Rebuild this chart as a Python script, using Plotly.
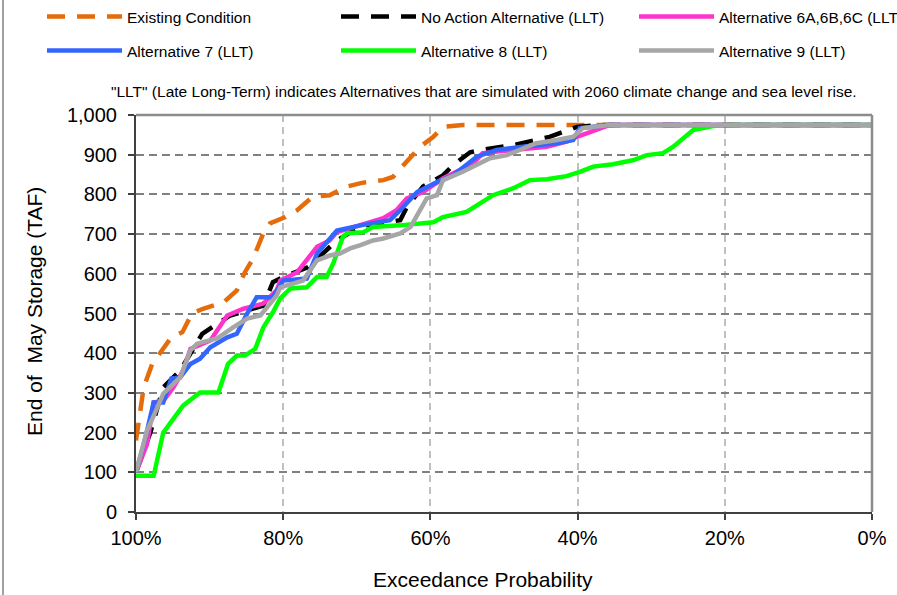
import plotly.graph_objects as go

# ---------------- data (exceedance probability %, storage TAF) ----------------
existing_x = [100, 98.95, 97.8, 96.6, 95.2, 93.7, 92.4, 90.9, 88.1, 86.3, 85.2, 84.1, 82.7, 81.8,
              79.7, 78.1, 76.0, 73.7, 71.3, 69.3, 66.4, 65.1, 62.7, 61.4, 59.6, 58.3, 55.6, 0]
existing_y = [180, 314, 373, 402, 440, 453, 500, 512, 528, 558, 604, 638, 702, 727,
              743, 760, 794, 798, 820, 829, 836, 844, 895, 920, 945, 970, 975, 975]

noaction_x = [100, 98.05, 96.3, 94.0, 91.0, 87.2, 82.7, 81.4, 80.0, 76.6, 72.7, 69.5, 64.1, 63.2,
              61.0, 58.3, 56.9, 54.6, 53.0, 48.8, 43.8, 40.1, 37.0, 0]
noaction_y = [100, 200, 314, 356, 449, 495, 520, 579, 592, 617, 684, 720, 735, 768,
              820, 848, 874, 906, 912, 924, 945, 970, 975, 975]

alt6_x = [100, 98.5, 97.6, 96.3, 94.9, 93.6, 92.6, 89.9, 87.6, 85.4, 82.7, 80.9, 80.4, 78.1, 75.4,
          73.7, 72.7, 69.5, 66.4, 64.6, 63.2, 61.0, 58.3, 54.2, 52.9, 48.8, 44.2, 41.5, 40.1, 35.6, 0]
alt6_y = [100, 171, 276, 280, 314, 356, 411, 432, 495, 512, 525, 558, 583, 604, 668,
          684, 705, 722, 740, 760, 790, 806, 840, 878, 904, 912, 920, 933, 945, 975, 975]

alt7_x = [100, 98.7, 97.6, 96.3, 95.2, 94.0, 92.6, 91.3, 89.9, 87.6, 86.3, 84.9, 83.6, 81.4, 80.0,
          76.8, 75.4, 72.7, 69.5, 65.5, 64.1, 61.8, 59.1, 56.9, 53.7, 51.0, 47.4, 42.8, 40.6, 39.7, 35.6, 0]
alt7_y = [100, 188, 276, 276, 336, 339, 373, 386, 415, 440, 449, 500, 541, 541, 583,
          588, 651, 709, 722, 735, 760, 806, 831, 848, 895, 912, 920, 929, 937, 967, 975, 975]

alt8_x = [100, 97.6, 96.3, 93.6, 91.3, 88.8, 87.5, 86.3, 85.2, 83.8, 82.7, 81.4, 80.4, 79.0, 76.8,
          75.4, 74.1, 73.2, 71.9, 71.3, 69.1, 67.8, 64.1, 59.6, 58.3, 55.1, 53.3, 51.5, 48.8, 46.5,
          44.2, 41.5, 39.7, 37.9, 35.2, 32.5, 30.6, 28.4, 27.0, 25.2, 24.3, 21.6, 19.8, 0]
alt8_y = [91, 91, 200, 268, 301, 301, 373, 394, 394, 411, 465, 503, 538, 563, 566,
          592, 592, 626, 693, 702, 705, 718, 722, 730, 743, 756, 777, 798, 815, 836,
          838, 846, 857, 870, 876, 886, 899, 904, 920, 949, 962, 972, 975, 975]

alt9_x = [100, 98.5, 97.1, 96.3, 94.0, 92.6, 91.7, 89.0, 86.8, 84.9, 83.1, 80.9, 80.4, 77.3, 75.4,
          73.7, 72.3, 70.9, 69.5, 67.8, 66.4, 64.1, 62.7, 61.4, 60.5, 59.1, 58.3, 55.6, 53.7, 51.9,
          49.6, 47.8, 45.6, 42.8, 40.6, 39.3, 35.6, 0]
alt9_y = [100, 205, 263, 298, 339, 407, 424, 437, 465, 487, 495, 545, 566, 583, 634,
          646, 651, 664, 672, 684, 689, 702, 718, 760, 790, 798, 836, 857, 874, 891,
          899, 912, 929, 937, 945, 967, 975, 975]

names = ["Existing Condition", "No Action Alternative (LLT)", "Alternative 6A,6B,6C (LLT)",
         "Alternative 7 (LLT)", "Alternative 8 (LLT)", "Alternative 9 (LLT)"]
x_ticks = [100, 80, 60, 40, 20, 0]
x_ticktext = ["100%", "80%", "60%", "40%", "20%", "0%"]
y_ticks = list(range(0, 1001, 100))

# ---------------- figure ----------------
W, H = 897, 595
L, R, T, B = 136, 25, 115, 83
PW = W - L - R
PH = H - T - B
FONT = "Arial, Liberation Sans, sans-serif"


def px_x(p):
    return (p - L) / PW


def px_y(p):
    return (H - B - p) / PH


series = [
    (existing_x, existing_y, "#E46C0A", "18px,12px"),
    (noaction_x, noaction_y, "#000000", "18px,12px"),
    (alt6_x, alt6_y, "#FF33CC", "solid"),
    (alt7_x, alt7_y, "#3366FF", "solid"),
    (alt8_x, alt8_y, "#00FF00", "solid"),
    (alt9_x, alt9_y, "#A6A6A6", "solid"),
]
# legend slot positions (symbol start x, row center y) in pixels
legend_pos = [(49, 17), (343, 17), (641, 17), (49, 51), (343, 51), (641, 51)]

fig = go.Figure()
legends = {}
for i, ((xs, ys, col, dash), name) in enumerate(zip(series, names)):
    lname = "legend" if i == 0 else f"legend{i+1}"
    fig.add_trace(go.Scatter(x=xs, y=ys, mode="lines", name=name, legend=lname,
                             line=dict(color=col, width=4.5, dash=dash)))
    px, py = legend_pos[i]
    legends[lname] = dict(xref="container", yref="container", x=(px - 7) / W, y=1 - py / H,
                          xanchor="left", yanchor="middle", bgcolor="rgba(0,0,0,0)",
                          borderwidth=0, itemwidth=75, font=dict(family=FONT, size=15.5, color="#000"),
                          tracegroupgap=0)

fig.update_layout(**legends)

fig.update_layout(
    width=W, height=H,
    margin=dict(l=L, r=R, t=T, b=B, pad=0, autoexpand=False),
    paper_bgcolor="white", plot_bgcolor="white",
    font=dict(family=FONT, color="#000"),
    showlegend=True,
    xaxis=dict(range=[100, 0], tickvals=x_ticks, ticktext=x_ticktext, automargin=False,
               showgrid=True, gridcolor="#C0C0C0", gridwidth=2, griddash="7px,5px",
               showline=True, linecolor="#404040", linewidth=2,
               ticks="outside", ticklen=6, tickcolor="#404040", tickwidth=1.5,
               tickfont=dict(size=20, family=FONT, color="#000"), ticklabelstandoff=1,
               zeroline=False),
    yaxis=dict(range=[0, 1000], tickvals=y_ticks, tickformat=",d", automargin=False,
               showgrid=True, gridcolor="#808080", gridwidth=2, griddash="8px,5px",
               showline=True, linecolor="#404040", linewidth=2,
               ticks="outside", ticklen=6, tickcolor="#404040", tickwidth=1.5,
               tickfont=dict(size=20, family=FONT, color="#000"), ticklabelstandoff=7,
               zeroline=False),
    shapes=[
        dict(type="line", xref="paper", yref="paper", x0=0, x1=1, y0=1, y1=1,
             line=dict(color="#8C8C8C", width=2.5), layer="above"),
        dict(type="line", xref="paper", yref="paper", x0=1, x1=1, y0=0, y1=1,
             line=dict(color="#8C8C8C", width=2.5), layer="above"),
        dict(type="line", xref="paper", yref="paper",
             x0=px_x(3), x1=px_x(3), y0=px_y(595), y1=px_y(0),
             line=dict(color="#808080", width=1.5)),
    ],
    annotations=[
        dict(text='"LLT" (Late Long-Term) indicates Alternatives that are simulated with 2060 climate change and sea level rise.',
             xref="paper", yref="paper", x=px_x(484), y=px_y(91),
             showarrow=False, xanchor="center", yanchor="middle",
             font=dict(family=FONT, size=15.5, color="#000")),
        dict(text="Exceedance Probability", xref="paper", yref="paper",
             x=px_x(483), y=px_y(579),
             showarrow=False, xanchor="center", yanchor="middle",
             font=dict(family=FONT, size=21, color="#000")),
        dict(text="End of  May Storage (TAF)", xref="paper", yref="paper", textangle=-90,
             x=px_x(34), y=px_y(312),
             showarrow=False, xanchor="center", yanchor="middle",
             font=dict(family=FONT, size=21, color="#000")),
    ],
)

fig.write_html("out.html")
